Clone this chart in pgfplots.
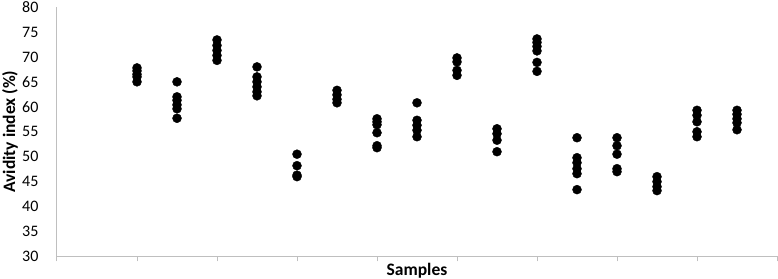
\documentclass[border=0pt]{standalone}
\usepackage{pgfplots}
\pgfplotsset{compat=1.18}
\usepackage{fontspec}
\setmainfont{Carlito}
\definecolor{axgray}{RGB}{191,191,191}
\begin{document}
\begin{tikzpicture}
\begin{axis}[
  name=ax,
  scale only axis,
  width=720pt, height=249.5pt,
  xmin=0, xmax=18, ymin=30, ymax=80,
  xtick={0,2,...,18}, xticklabels={},
  ytick={30,35,...,80},
  axis x line*=bottom, axis y line*=left,
  axis line style={axgray, line width=1pt},
  x axis line style={-}, y axis line style={-},
  xtick style={axgray, line width=1pt},
  major tick length=5pt,
  xtick pos=bottom, tick align=outside,
  ytick style={draw=none},
  /pgf/number format/assume math mode=true,
  tick label style={font=\fontsize{16}{18}\selectfont, text=black},
  yticklabel style={anchor=east, xshift=-10pt},
  xlabel={\textbf{Samples}},
  ylabel={\textbf{Avidity index (\%)}},
  every axis x label/.style={at={(axis description cs:0.5,0)}, anchor=center, yshift=-14pt, font=\fontsize{17.5}{19}\selectfont},
  every axis y label/.style={at={(axis description cs:0,0.5)}, rotate=90, anchor=center, yshift=47pt, font=\fontsize{17.5}{19}\selectfont},
  clip=false,
]
\addplot[only marks, mark=*, mark size=4.5pt, black] coordinates {
 (2,67.8) (2,67.2) (2,66.5) (2,66.0) (2,65.0)
 (3,65.0) (3,62.0) (3,61.3) (3,60.4) (3,59.6) (3,57.7)
 (4,73.4) (4,72.3) (4,71.3) (4,70.3) (4,69.3)
 (5,68.0) (5,66.0) (5,65.0) (5,64.0) (5,63.0) (5,62.2)
 (6,50.5) (6,48.2) (6,46.3) (6,46.0)
 (7,63.3) (7,62.4) (7,61.5) (7,60.8)
 (8,57.6) (8,57.0) (8,56.4) (8,54.8) (8,52.2) (8,51.8)
 (9,60.8) (9,57.3) (9,56.3) (9,55.3) (9,54.0)
 (10,69.8) (10,69.0) (10,67.3) (10,66.3)
 (11,55.6) (11,54.6) (11,53.3) (11,51.0)
 (12,73.6) (12,72.9) (12,72.1) (12,71.2) (12,68.9) (12,67.1)
 (13,53.8) (13,49.8) (13,48.8) (13,47.6) (13,46.6) (13,43.4)
 (14,53.8) (14,52.2) (14,50.5) (14,47.6) (14,47.0)
 (15,46.0) (15,45.0) (15,44.0) (15,43.2)
 (16,59.3) (16,58.3) (16,57.0) (16,55.0) (16,54.0)
 (17,59.3) (17,58.5) (17,57.6) (17,56.8) (17,55.4)
};
\end{axis}
\pgfresetboundingbox
\path[use as bounding box] ([xshift=-57pt,yshift=-22.5pt]ax.south west) rectangle ([xshift=1pt,yshift=7pt]ax.north east);
\end{tikzpicture}
\end{document}
